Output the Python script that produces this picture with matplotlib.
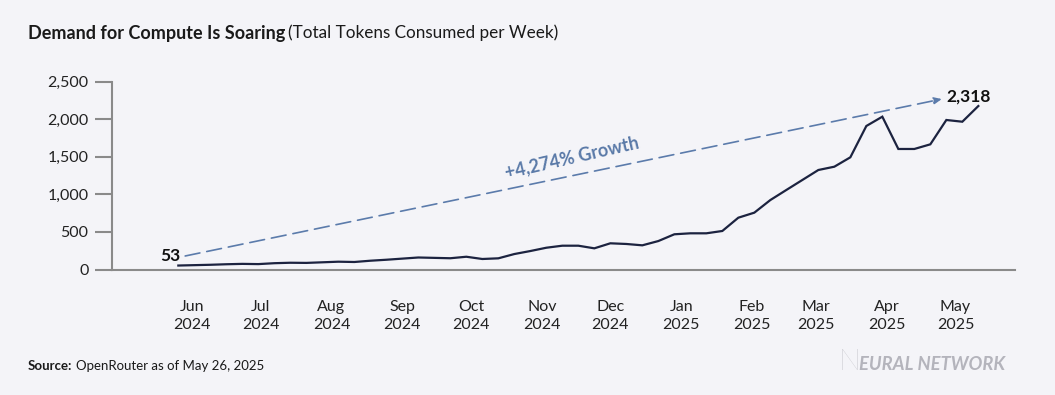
import numpy as np
import pandas as pd
import matplotlib
matplotlib.use("Agg")
import matplotlib.pyplot as plt
import matplotlib.dates as mdates
from matplotlib.ticker import FuncFormatter

# ---- data ----
start_date = "2024-05-26"
tokens = [53, 58, 63, 70, 75, 72, 84, 90, 88, 96,
          104, 100, 117, 130, 145, 160, 155, 150, 170, 140,
          149, 206, 246, 290, 317, 317, 282, 349, 340, 322,
          379, 469, 482, 482, 513, 690, 757, 925, 1059, 1192,
          1325, 1369, 1494, 1911, 2035, 1605, 1605, 1667, 1991, 1968,
          2177]
month_ticks = ["2024-06-01", "2024-07-01", "2024-08-01", "2024-09-01", "2024-10-01",
               "2024-11-01", "2024-12-01", "2025-01-01", "2025-02-01", "2025-03-01",
               "2025-04-01", "2025-05-01"]
month_labels = ["Jun\n2024", "Jul\n2024", "Aug\n2024", "Sep\n2024", "Oct\n2024", "Nov\n2024",
                "Dec\n2024", "Jan\n2025", "Feb\n2025", "Mar\n2025", "Apr\n2025", "May\n2025"]
yticks = [0, 500, 1000, 1500, 2000, 2500]
start_label = "53"
end_label = "2,318"
growth_label = "+4,274% Growth"
arrow_start = ("2024-05-29", 180)
arrow_end = ("2025-04-25", 2270)

dates = pd.date_range(start_date, periods=len(tokens), freq="7D")

BG = "#f4f4f8"
plt.rcParams['font.family'] = ['Lato', 'DejaVu Sans']

fig = plt.figure(figsize=(10.55, 3.95), dpi=100, facecolor=BG)
ax = fig.add_axes([0.1062, 0.3177, 0.962 - 0.1062, 0.793 - 0.3177])
ax.set_facecolor(BG)

ax.plot(dates, tokens, color="#1c2340", lw=1.6, solid_joinstyle="miter", zorder=3)

ax.set_ylim(0, 2500)
ax.set_xlim(pd.Timestamp("2024-04-27"), pd.Timestamp("2025-05-27"))
ax.set_yticks(yticks)
ax.yaxis.set_major_formatter(FuncFormatter(lambda v, p: f"{int(v):,}"))
ax.set_xticks([pd.Timestamp(d) for d in month_ticks])
ax.set_xticklabels(month_labels, linespacing=1.35)

for s in ["top", "right"]:
    ax.spines[s].set_visible(False)
for s in ["left", "bottom"]:
    ax.spines[s].set_color("#8a8a8a")
    ax.spines[s].set_linewidth(1.5)
ax.tick_params(axis="y", length=12, width=1.5, color="#8a8a8a", pad=5,
               labelsize=11.5, labelcolor="#222222")
ax.tick_params(axis="x", length=0, pad=22, labelsize=11.5, labelcolor="#222222")

# dashed growth arrow
x0 = mdates.date2num(pd.Timestamp(arrow_start[0]))
x1 = mdates.date2num(pd.Timestamp(arrow_end[0]))
ax.annotate("", xy=(x1, arrow_end[1]), xytext=(x0, arrow_start[1]),
            arrowprops=dict(arrowstyle="-|>,head_length=0.45,head_width=0.2",
                            color="#5b7bab", lw=1.2, linestyle=(0, (9, 4.2)),
                            shrinkA=0, shrinkB=0), zorder=2)

ax.text(pd.Timestamp("2024-11-14"), 1490, growth_label, rotation=13,
        rotation_mode="anchor", ha="center", va="center",
        fontsize=13, fontweight="bold", color="#5a7aa8")

ax.text(pd.Timestamp("2024-05-27"), 185, start_label, ha="right", va="center",
        fontsize=12.5, fontweight="bold", color="#111111")
ax.text(pd.Timestamp("2025-04-27"), 2300, end_label, ha="left", va="center",
        fontsize=12.5, fontweight="bold", color="#111111")

# title
fig.canvas.draw()
r = fig.canvas.get_renderer()
t1 = fig.text(28 / 1055, 1 - 33 / 395, "Demand for Compute Is Soaring", ha="left", va="center",
              fontsize=13, fontweight="bold", color="#1a1a1a")
bb = t1.get_window_extent(renderer=r)
fig.text(bb.x1 / 1055 + 0.003, 1 - 33 / 395, "(Total Tokens Consumed per Week)", ha="left",
         va="center", fontsize=12.3, color="#1a1a1a")

# source
s1 = fig.text(28 / 1055, 1 - 366 / 395, "Source:", ha="left", va="center",
              fontsize=9.5, fontweight="bold", color="#1a1a1a")
bb2 = s1.get_window_extent(renderer=r)
fig.text(bb2.x1 / 1055 + 0.003, 1 - 366 / 395, "OpenRouter as of May 26, 2025", ha="left",
         va="center", fontsize=9.5, color="#1a1a1a")

# logo
fig.text(1005 / 1055, 1 - 364 / 395, "EURAL NETWORK", ha="right", va="center",
         fontsize=13.2, fontweight="bold", fontstyle="italic", color="#b4b4bc")
fig.text(860 / 1055, 1 - 362 / 395, "N", ha="right", va="center",
         fontsize=21, fontweight="light", color="#b0b0b8")

fig.savefig("out.png", dpi=100, facecolor=BG)
